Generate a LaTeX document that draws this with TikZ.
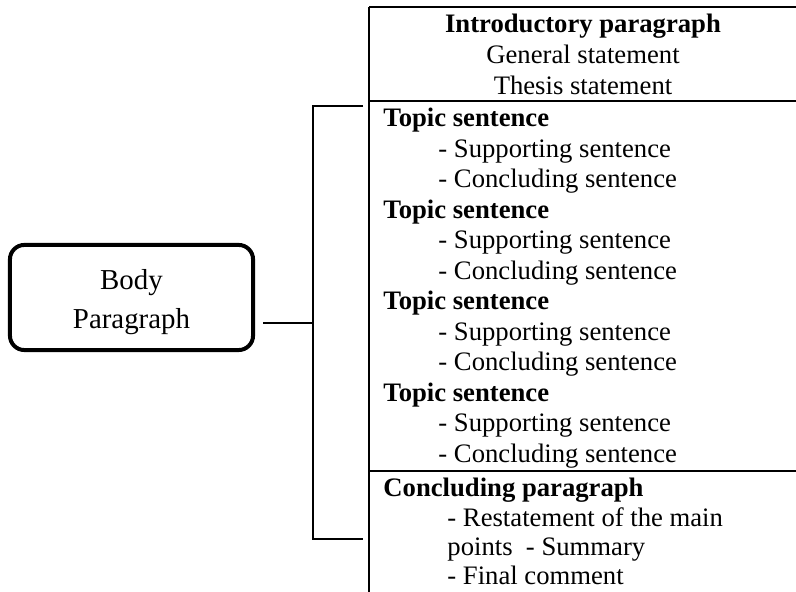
\documentclass[tikz,border=0pt]{standalone}
\usepackage{fontspec}
\setmainfont{Liberation Serif}
\usetikzlibrary{positioning}

\begin{document}
\begin{tikzpicture}[x=0.45pt, y=-0.45pt,
    rule/.style={line width=0.9pt},
    txt/.style={inner sep=0pt, anchor=base west, font=\fontsize{12}{14}\selectfont},
    head/.style={txt, font=\fontsize{12}{14}\selectfont\bfseries},
    mid/.style={inner sep=0pt, anchor=base, font=\fontsize{12}{14}\selectfont},
    bodybox/.style={draw, line width=1.8pt, rounded corners=6.5pt, minimum width=109.4pt,
      minimum height=47.3pt, align=center, text height=31pt, font=\fontsize{13}{17.5}\selectfont}]
  \useasboundingbox (0,0) rectangle (796,592);

  \node[bodybox] (body) at (131.5,297.5) {Body\\Paragraph};

  % table rules
  \draw[rule] (369,7) -- (369,592);
  \foreach \y in {7,101,471}
    \draw[rule] (369,\y) -- (796,\y);

  % bracket
  \coordinate (stub) at (263,323);
  \coordinate (fork) at (313,323);
  \coordinate (armtop) at (363,106);
  \coordinate (armbot) at (363,539);
  \draw[rule] (armtop) -| (fork) |- (armbot);
  \draw[rule] (stub) -- (fork);

  \node[mid] (intro) at (583,33) {\bfseries Introductory paragraph};
  \node[mid] (general) at (583,64) {General statement};
  \node[mid] (thesis) at (583,95) {Thesis statement};

  \foreach \i in {0,...,3} {
    \pgfmathsetmacro\yb{127+91.5*\i}
    \node[head] (topic\i) at (383,\yb) {Topic sentence};
    \node[txt] (sup\i) at (438,\yb+30.5) {- Supporting sentence};
    \node[txt] (con\i) at (438,\yb+61) {- Concluding sentence};
  }

  \node[head] (concl) at (383,497) {Concluding paragraph};
  \node[txt] (restate) at (447,526.5) {- Restatement of the main};
  \node[txt] (points) at (447,556) {points\ \ - Summary};
  \node[txt] (final) at (447,585) {- Final comment};
\end{tikzpicture}
\end{document}
